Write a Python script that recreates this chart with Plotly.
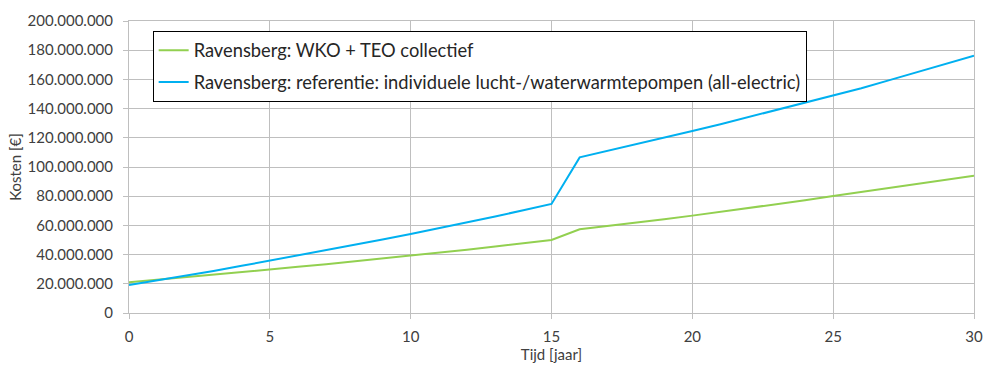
import plotly.graph_objects as go

years = list(range(0, 31))
wko_teo = [21.0, 22.7, 24.3, 26.0, 27.9, 29.9, 31.6, 33.4, 35.3, 37.3, 39.5,
           41.4, 43.4, 45.5, 47.6, 50.0, 57.3, 59.5, 61.8, 64.2, 66.7,
           69.2, 71.8, 74.5, 77.2, 80.1, 82.8, 85.6, 88.4, 91.2, 94.0]
referentie = [19.2, 22.3, 25.5, 28.8, 32.3, 35.8, 39.3, 42.9, 46.6, 50.3, 54.1,
              58.0, 62.0, 66.1, 70.4, 74.7, 106.6, 111.0, 115.5, 120.0, 124.7,
              129.3, 134.2, 139.0, 143.9, 148.8, 154.0, 159.5, 165.0, 170.6, 176.2]
wko_teo = [v * 1e6 for v in wko_teo]
referentie = [v * 1e6 for v in referentie]

name_green = "Ravensberg: WKO + TEO collectief"
name_blue = "Ravensberg: referentie: individuele lucht-/waterwarmtepompen (all-electric)"

FONT = "Lato"
grid = "#BFBFBF"
txt = "#404040"

fig = go.Figure()
fig.add_trace(go.Scatter(x=years, y=wko_teo, mode="lines", name=name_green,
                         legendgroup="g", line=dict(color="#92D050", width=2)))
fig.add_trace(go.Scatter(x=years, y=referentie, mode="lines", name=name_blue,
                         legendgroup="b", line=dict(color="#00B0F0", width=2)))

fig.update_layout(
    width=985, height=365,
    margin=dict(l=129, r=11, t=21, b=52),
    paper_bgcolor="white", plot_bgcolor="white",
    separators=",.",
    font=dict(family=FONT, size=15, color=txt),
    showlegend=True,
    legend=dict(x=0.028, y=0.966, xanchor="left", yanchor="top",
                bgcolor="white", bordercolor="black", borderwidth=1,
                font=dict(family=FONT, size=18.3, color="#262626"),
                tracegroupgap=5, itemwidth=30),
)
fig.update_xaxes(range=[0, 30], dtick=5, tick0=0,
                 showgrid=True, gridcolor=grid, gridwidth=1,
                 showline=True, linecolor=grid, linewidth=1, mirror=True,
                 ticks="outside", ticklen=5, tickcolor=grid,
                 ticklabelstandoff=5,
                 zeroline=False, automargin=False,
                 tickfont=dict(family=FONT, size=15, color=txt),
                 title=dict(text="Tijd [jaar]", standoff=4,
                            font=dict(family=FONT, size=15, color=txt)))
fig.update_yaxes(range=[0, 200e6], dtick=20e6, tick0=0, tickformat=",d",
                 showgrid=True, gridcolor=grid, gridwidth=1,
                 showline=True, linecolor=grid, linewidth=1, mirror=True,
                 ticks="outside", ticklen=5, tickcolor=grid,
                 ticklabelstandoff=7,
                 zeroline=False, automargin=False,
                 tickfont=dict(family=FONT, size=15, color=txt),
                 title=dict(text="Kosten [€]", standoff=2,
                            font=dict(family=FONT, size=15, color=txt)))

fig.write_html("out.html", config={"displayModeBar": False},
               post_script="document.body.style.margin='0';")
